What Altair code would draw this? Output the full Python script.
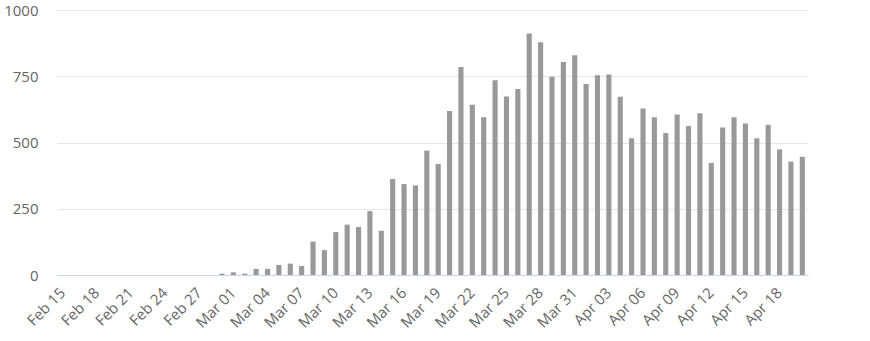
import altair as alt
import pandas as pd

days = [
    "Feb 15", "Feb 16", "Feb 17", "Feb 18", "Feb 19", "Feb 20", "Feb 21", "Feb 22",
    "Feb 23", "Feb 24", "Feb 25", "Feb 26", "Feb 27", "Feb 28", "Feb 29",
    "Mar 01", "Mar 02", "Mar 03", "Mar 04", "Mar 05", "Mar 06", "Mar 07", "Mar 08",
    "Mar 09", "Mar 10", "Mar 11", "Mar 12", "Mar 13", "Mar 14", "Mar 15", "Mar 16",
    "Mar 17", "Mar 18", "Mar 19", "Mar 20", "Mar 21", "Mar 22", "Mar 23", "Mar 24",
    "Mar 25", "Mar 26", "Mar 27", "Mar 28", "Mar 29", "Mar 30", "Mar 31",
    "Apr 01", "Apr 02", "Apr 03", "Apr 04", "Apr 05", "Apr 06", "Apr 07", "Apr 08",
    "Apr 09", "Apr 10", "Apr 11", "Apr 12", "Apr 13", "Apr 14", "Apr 15", "Apr 16",
    "Apr 17", "Apr 18", "Apr 19", "Apr 20",
]

values = [
    0, 0, 0, 0, 0, 0, 0, 0, 0, 0, 0, 0, 0, 0, 5,
    10, 5, 23, 23, 38, 43, 34, 126, 94, 162, 190, 181, 241, 167, 362, 343,
    338, 469, 419, 619, 785, 642, 595, 735, 674, 702, 911, 878, 748, 804, 829,
    721, 754, 757, 673, 516, 628, 595, 536, 606, 562, 610, 423, 557, 595, 572, 516,
    567, 474, 428, 446,
]

tick_labels = [
    "Feb 15", "Feb 18", "Feb 21", "Feb 24", "Feb 27", "Mar 01", "Mar 04", "Mar 07",
    "Mar 10", "Mar 13", "Mar 16", "Mar 19", "Mar 22", "Mar 25", "Mar 28", "Mar 31",
    "Apr 03", "Apr 06", "Apr 09", "Apr 12", "Apr 15", "Apr 18",
]

y_ticks = [0, 250, 500, 750, 1000]

df = pd.DataFrame({"day": days, "value": values})

FONT = "Open Sans"

chart = (
    alt.Chart(df)
    .mark_bar(color="#999999")
    .encode(
        x=alt.X(
            "day:N",
            sort=days,
            title=None,
            scale=alt.Scale(paddingInner=0.55, paddingOuter=0.275),
            axis=alt.Axis(
                values=tick_labels,
                labelAngle=-45,
                labelAlign="right",
                labelBaseline="middle",
                labelPadding=15,
                labelFont=FONT,
                labelFontSize=15,
                labelColor="#666666",
                labelOverlap=False,
                ticks=False,
                domainColor="#ccd6eb",
                domainWidth=1,
                grid=False,
            ),
        ),
        y=alt.Y(
            "value:Q",
            title=None,
            scale=alt.Scale(domain=[0, 1000], nice=False),
            axis=alt.Axis(
                values=y_ticks,
                format="d",
                labelFont=FONT,
                labelFontSize=15,
                labelColor="#666666",
                labelPadding=19,
                ticks=False,
                domain=False,
                gridColor="#e6e6e6",
                gridWidth=1,
            ),
        ),
    )
    .properties(
        width=751,
        height=265,
        autosize=alt.AutoSizeParams(type="none"),
        padding={"left": 57, "top": 10, "right": 62, "bottom": 66},
        background="#ffffff",
    )
    .configure_view(stroke=None)
)

chart.save("out.html", embed_options={"renderer": "svg", "actions": False})
